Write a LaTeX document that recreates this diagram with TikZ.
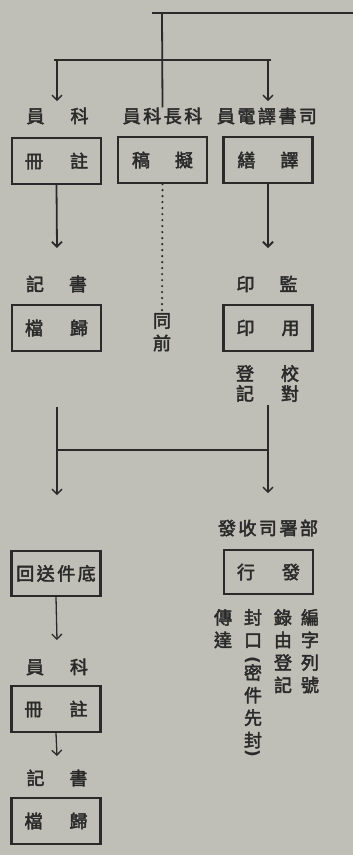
\documentclass[tikz,border=0pt]{standalone}
\usepackage{fontspec}
\newfontfamily\cjk[FakeBold=2.6]{Noto Sans CJK TC}
\newfontfamily\parfont{DejaVu Sans}
\usetikzlibrary{arrows.meta}
\definecolor{paper}{RGB}{192,191,183}
\definecolor{ink}{RGB}{42,42,42}
\newcommand{\kk}{\hspace{2.5pt}}
\tikzset{
  lbl/.style={font=\cjk\fontsize{18}{20}\selectfont, text=ink, inner sep=0pt},
  boxn/.style={lbl, draw=ink, line width=2.2pt, minimum width=89pt, minimum height=46pt},
  bar/.style={draw=ink, line width=2.6pt},
  stem/.style={draw=ink, line width=1.8pt},
  arr/.style={draw=ink, line width=1.3pt, -{Straight Barb[length=5pt,width=10pt]}},
  dots/.style={draw=ink, line width=2.4pt, line cap=round, dash pattern=on 0pt off 6pt},
  vcol/.style={lbl, align=center, anchor=north, font=\cjk\fontsize{18}{22.5}\selectfont},
  vpar/.style={text=ink, inner sep=0pt, font=\parfont\bfseries\fontsize{17}{20}\selectfont, rotate=-90},
}
\begin{document}
\begin{tikzpicture}[x=1pt,y=-1pt]
\fill[paper] (0,0) rectangle (353,855);
\useasboundingbox (0,0) rectangle (353,855);

% top bars
\coordinate (tL) at (152,13);
\coordinate (tR) at (353,13);
\coordinate (tJ) at (162,13);
\coordinate (mL) at (54,60);
\coordinate (mR) at (271,60);
\draw[bar] (tL) -- (tR);
\draw[bar] (mL) -- (mR);

% row 1 labels
\node[lbl] (l1) at (57.5,116) {員\hspace{26pt}科};
\node[lbl] (l2) at (162.5,116) {員\kk 科\kk 長\kk 科};
\node[lbl] (l3) at (267,116) {員\kk 電\kk 譯\kk 書\kk 司};

\draw[stem] (tJ) -- (l2.north);
\coordinate (a1s) at (57,60);
\coordinate (a1e) at (57,101);
\coordinate (a3s) at (268,60);
\coordinate (a3e) at (268,101);
\draw[arr] (a1s) -- (a1e);
\draw[arr] (a3s) -- (a3e);

% row 1 boxes
\node[boxn] (b1) at (56.5,161) {冊\hspace{27pt}註};
\node[boxn] (b2) at (162.5,160) {稿\hspace{25pt}擬};
\node[boxn] (b3) at (268,160) {繕\hspace{25pt}譯};

% row 2 labels
\node[lbl] (l4) at (56.5,284) {記\hspace{25pt}書};
\node[lbl] (l5) at (267,284) {印\hspace{25pt}監};
\coordinate (a4e) at (57,248);
\coordinate (a5e) at (268,248);
\draw[arr, line width=1.8pt] (b1.south) -- (a4e);
\draw[arr, line width=1.8pt] (b3.south) -- (a5e);

% row 2 boxes
\node[boxn] (b4) at (56.5,328) {檔\hspace{27pt}歸};
\node[boxn] (b5) at (268,328) {印\hspace{27pt}用};
\node[vcol] (n6) at (162,313) {同\\前};
\draw[dots] (b2.south) -- (n6.north);

\node[vcol, font=\cjk\fontsize{18}{20}\selectfont] (c1) at (245,365) {登\\記};
\node[vcol, font=\cjk\fontsize{18}{20}\selectfont] (c2) at (290,365) {校\\對};

% merge
\coordinate (vL1) at (57,407);
\coordinate (vL2) at (57,473);
\coordinate (vR1) at (268,405);
\coordinate (vR2) at (268,472);
\coordinate (hL) at (57,450);
\coordinate (hR) at (268,450);
\draw[stem, line width=2.2pt] (vL1) -- (vL2);
\draw[stem, line width=2.2pt] (vR1) -- (vR2);
\draw[bar, line width=2.4pt] (hL) -- (hR);
\coordinate (aLe) at (57,495);
\coordinate (aRe) at (268,493);
\draw[arr] (vL2) -- (aLe);
\draw[arr] (vR2) -- (aRe);

% lower right
\node[lbl] (l6) at (268,528) {發\kk 收\kk 司\kk 署\kk 部};
\node[boxn, minimum height=44pt] (b6) at (268.5,572) {行\hspace{27pt}發};
\node[vcol] (r1) at (310,609) {編\\字\\列\\號};
\node[vcol] (r2) at (283,609) {錄\\由\\登\\記};
\node[vcol] (r3a) at (253,609) {封\\口};
\node[vpar] (r3p) at (253,660) {(};
\node[vcol] (r3b) at (253,664) {密\\件\\先\\封};
\node[vpar] (r3q) at (253,753) {)};
\node[vcol] (r4) at (223,609) {傳\\達};

% lower left
\node[boxn, minimum height=45pt] (b7) at (56,573.5) {回\kk 送\kk 件\kk 底};
\coordinate (a7e) at (57,640);
\draw[arr] (b7.south) -- (a7e);
\node[lbl] (l7) at (57,667) {員\hspace{26pt}科};
\node[boxn] (b8) at (56,709) {冊\hspace{27pt}註};
\coordinate (a8e) at (57,756);
\draw[arr] (b8.south) -- (a8e);
\node[lbl] (l8) at (57,778) {記\hspace{25pt}書};
\node[boxn] (b9) at (56,821) {檔\hspace{27pt}歸};
\end{tikzpicture}
\end{document}
